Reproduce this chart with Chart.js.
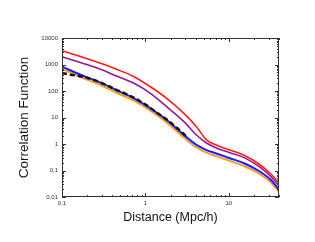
<!DOCTYPE html>
<html>
<head>
<meta charset="utf-8">
<script src="https://cdn.jsdelivr.net/npm/chart.js@4.4.0/dist/chart.umd.min.js"></script>
<style>
  html, body { margin: 0; padding: 0; background: #fff; }
  #wrap { width: 315px; height: 242px; position: relative; }
</style>
</head>
<body>
<div id="wrap"><canvas id="chart"></canvas></div>
<script>
// distance (Mpc/h) sampled for the model curves
const distances = [0.1, 0.17, 0.29, 0.46, 0.73, 1.15, 1.8, 2.9, 4.1, 5.4, 7.1, 10.3, 15.5, 23, 32, 40];
const redValues    = [3300, 1970, 1110, 648, 347, 145, 53, 14.4, 4.5, 1.42, 0.92, 0.59, 0.37, 0.176, 0.074, 0.034];
const purpleValues = [1970, 1160, 660, 359, 195, 82, 25.6, 6.95, 2.19, 1.09, 0.71, 0.47, 0.30, 0.142, 0.059, 0.027];
const blueValues   = [826, 402, 206, 104, 53, 22.2, 8.06, 2.19, 0.92, 0.59, 0.44, 0.29, 0.184, 0.096, 0.044, 0.0195];
const orangeValues = [680, 330, 168, 84, 43, 18, 6.5, 1.75, 0.74, 0.47, 0.35, 0.23, 0.145, 0.077, 0.035, 0.0155];

// measured (noisy, dashed black) curve
const measuredDistances = [0.1, 0.12, 0.15, 0.2, 0.26, 0.34, 0.45, 0.6, 0.8, 1.05, 1.4, 1.85, 2.4, 3.1];
const measuredValues    = [480, 420, 380, 315, 240, 168, 110, 75, 48, 28, 14.5, 7.9, 4.0, 1.95];

const xTickValues = [0.1, 1, 10];
const xTickLabels = ['0,1', '1', '10'];
const yTickValues = [0.01, 0.1, 1, 10, 100, 1000, 10000];
const yTickLabels = ['0,01', '0,1', '1', '10', '100', '1000', '10000'];

const toPoints = (xs, ys) => xs.map((x, i) => ({ x: x, y: ys[i] }));

// ticks pointing inward on all four sides + box frame
const frameTicks = {
    id: 'frameTicks',
    afterDraw(chart) {
        const { ctx, chartArea: a, scales: { x, y } } = chart;
        ctx.save();
        ctx.strokeStyle = '#333';
        ctx.lineWidth = 1;
        ctx.strokeRect(a.left + 0.5, a.top + 0.5, a.right - a.left - 1, a.bottom - a.top - 1);
        ctx.beginPath();
        for (let d = -1; d <= 1; d++) {
            for (let m = 1; m <= 9; m++) {
                const v = m * Math.pow(10, d);
                if (v < x.min || v > x.max) continue;
                const px = Math.round(x.getPixelForValue(v)) + 0.5;
                const len = m === 1 ? 4 : 2;
                ctx.moveTo(px, a.bottom); ctx.lineTo(px, a.bottom - len);
                ctx.moveTo(px, a.top); ctx.lineTo(px, a.top + len);
            }
        }
        for (let d = -2; d <= 4; d++) {
            for (let m = 1; m <= 9; m++) {
                const v = m * Math.pow(10, d);
                if (v < y.min || v > y.max) continue;
                const py = Math.round(y.getPixelForValue(v)) + 0.5;
                const len = m === 1 ? 4 : 2;
                ctx.moveTo(a.left, py); ctx.lineTo(a.left + len, py);
                ctx.moveTo(a.right, py); ctx.lineTo(a.right - len, py);
            }
        }
        ctx.stroke();
        ctx.restore();
    }
};

const ctx = document.getElementById('chart').getContext('2d');

new Chart(ctx, {
    type: 'scatter',
    data: {
        datasets: [
            { data: toPoints(measuredDistances, measuredValues), borderColor: '#111', borderWidth: 2.5, borderDash: [5, 3], order: 0 },
            { data: toPoints(distances, blueValues), borderColor: '#1a1aff', borderWidth: 2, order: 1, cubicInterpolationMode: 'monotone' },
            { data: toPoints(distances, orangeValues), borderColor: '#ff9a1a', borderWidth: 2, order: 2, cubicInterpolationMode: 'monotone' },
            { data: toPoints(distances, purpleValues), borderColor: '#8e1a9a', borderWidth: 1.6, order: 3, cubicInterpolationMode: 'monotone' },
            { data: toPoints(distances, redValues), borderColor: '#ff1a1a', borderWidth: 1.6, order: 4, cubicInterpolationMode: 'monotone' }
        ]
    },
    options: {
        responsive: true,
        maintainAspectRatio: false,
        animation: false,
        showLine: true,
        elements: { point: { radius: 0 } },
        layout: { padding: { top: 38, right: 36, left: 0, bottom: 0 } },
        plugins: {
            legend: { display: false },
            tooltip: { enabled: false }
        },
        scales: {
            x: {
                type: 'logarithmic',
                min: 0.1,
                max: 40,
                grid: { display: false, drawTicks: false, tickLength: 0 },
                border: { display: false },
                afterBuildTicks: scale => { scale.ticks = xTickValues.map(v => ({ value: v })); },
                afterFit: scale => { scale.height = 45; },
                ticks: {
                    autoSkip: false,
                    maxRotation: 0,
                    padding: 3,
                    color: '#333',
                    font: { family: 'Liberation Sans', size: 6 },
                    callback: (v, i) => xTickLabels[i]
                },
                title: {
                    display: true,
                    text: 'Distance (Mpc/h)',
                    color: '#111',
                    font: { family: 'Liberation Sans', size: 12.5 },
                    padding: { top: 0, bottom: 17 }
                }
            },
            y: {
                type: 'logarithmic',
                min: 0.01,
                max: 10000,
                grid: { display: false, drawTicks: false, tickLength: 0 },
                border: { display: false },
                afterBuildTicks: scale => { scale.ticks = yTickValues.map(v => ({ value: v })); },
                afterFit: scale => { scale.width = 62; },
                ticks: {
                    autoSkip: false,
                    padding: 4,
                    color: '#333',
                    font: { family: 'Liberation Sans', size: 6 },
                    callback: (v, i) => yTickLabels[i]
                },
                title: {
                    display: true,
                    text: 'Correlation Function',
                    color: '#111',
                    font: { family: 'Liberation Sans', size: 13.5 },
                    padding: { top: 16, bottom: 0 }
                }
            }
        }
    },
    plugins: [frameTicks]
});
</script>
</body>
</html>
